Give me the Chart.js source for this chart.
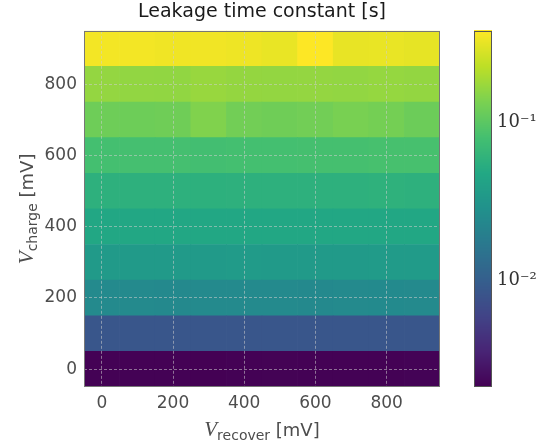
<!DOCTYPE html>
<html>
<head>
<meta charset="utf-8">
<script src="https://cdn.jsdelivr.net/npm/chart.js@4.4.0/dist/chart.umd.min.js"></script>
<style>
  html, body { margin: 0; padding: 0; background: #fff; }
  #wrap { width: 541px; height: 443px; }
</style>
</head>
<body>
<div id="wrap"><canvas id="myChart"></canvas></div>
<script>
// sweep axes (mV)
var vRecover = [0, 100, 200, 300, 400, 500, 600, 700, 800, 900];
var vCharge = [0, 100, 200, 300, 400, 500, 600, 700, 800, 900];

// leakage time constant [s], one array per V_charge row, columns follow vRecover
var tauCharge0   = [0.00211, 0.00213, 0.00212, 0.00209, 0.00212, 0.00214, 0.00213, 0.00211, 0.00212, 0.00215];
var tauCharge100 = [0.0084, 0.00842, 0.00838, 0.0084, 0.00845, 0.00841, 0.0084, 0.00843, 0.00839, 0.00844];
var tauCharge200 = [0.0242, 0.0243, 0.0241, 0.0242, 0.0244, 0.0242, 0.0241, 0.0243, 0.0245, 0.0243];
var tauCharge300 = [0.0348, 0.0349, 0.0346, 0.0348, 0.035, 0.0347, 0.0349, 0.0348, 0.0351, 0.035];
var tauCharge400 = [0.0462, 0.0464, 0.0463, 0.046, 0.0465, 0.0462, 0.0464, 0.0466, 0.0463, 0.0465];
var tauCharge500 = [0.0568, 0.057, 0.0572, 0.0565, 0.057, 0.0568, 0.057, 0.0572, 0.0578, 0.0574];
var tauCharge600 = [0.080, 0.0805, 0.0805, 0.0785, 0.080, 0.080, 0.081, 0.081, 0.0825, 0.082];
var tauCharge700 = [0.120, 0.119, 0.121, 0.141, 0.1245, 0.121, 0.1245, 0.132, 0.127, 0.117];
var tauCharge800 = [0.164, 0.162, 0.161, 0.170, 0.165, 0.163, 0.164, 0.162, 0.166, 0.163];
var tauCharge900 = [0.352, 0.350, 0.343, 0.345, 0.338, 0.325, 0.381, 0.322, 0.324, 0.316];

var tauRows = [tauCharge0, tauCharge100, tauCharge200, tauCharge300, tauCharge400,
               tauCharge500, tauCharge600, tauCharge700, tauCharge800, tauCharge900];

// tick labels
var xTicks = [0, 200, 400, 600, 800];
var yTicks = [0, 200, 400, 600, 800];
var cbarTicks = [0.01, 0.1];

var viridis = ['#440154','#482475','#414487','#355f8d','#2a788e','#21918c',
               '#22a884','#44bf70','#7ad151','#bddf26','#fde725'];

var allTau = [].concat.apply([], tauRows);
var vmin = Math.min.apply(null, allTau);
var vmax = Math.max.apply(null, allTau);
var step = vRecover[1] - vRecover[0];

function hexRgb(h) {
  return [parseInt(h.substr(1,2),16), parseInt(h.substr(3,2),16), parseInt(h.substr(5,2),16)];
}
var viridisRgb = viridis.map(hexRgb);

function colorFor(v) {
  var t = (Math.log10(v) - Math.log10(vmin)) / (Math.log10(vmax) - Math.log10(vmin));
  t = Math.max(0, Math.min(1, t));
  var p = t * (viridisRgb.length - 1);
  var i = Math.min(Math.floor(p), viridisRgb.length - 2);
  var f = p - i;
  var a = viridisRgb[i], b = viridisRgb[i+1];
  return 'rgb(' + Math.round(a[0] + (b[0]-a[0])*f) + ',' + Math.round(a[1] + (b[1]-a[1])*f) + ',' + Math.round(a[2] + (b[2]-a[2])*f) + ')';
}

function supNum(n) {
  var map = {'-':'\u207B','0':'\u2070','1':'\u00B9','2':'\u00B2','3':'\u00B3','4':'\u2074','5':'\u2075','6':'\u2076','7':'\u2077','8':'\u2078','9':'\u2079'};
  return String(n).split('').map(function(c){ return map[c]; }).join('');
}

var datasets = tauRows.map(function(row, i) {
  return {
    data: vRecover.map(function(x, j) {
      return { x: x, y: [vCharge[i] - step/2, vCharge[i] + step/2] };
    }),
    backgroundColor: row.map(colorFor),
    borderWidth: 0,
    grouped: false,
    categoryPercentage: 1,
    barPercentage: 1
  };
});

var gridOpts = { color: 'rgba(205,205,205,0.55)', lineWidth: 1, drawTicks: false, z: 1 };
var tickFont = { family: 'DejaVu Sans', size: 17 };

function noPad(s) {
  s.paddingTop = 0; s.paddingBottom = 0; s.paddingLeft = 0; s.paddingRight = 0;
}

// frame, colorbar and mixed-font axis titles
var extras = {
  id: 'extras',
  afterDraw: function(chart) {
    var ctx = chart.ctx;
    var a = chart.chartArea;
    var cb = chart.scales.cbar;
    ctx.save();
    // colorbar
    var x0 = a.right + 34, w = 18;
    for (var py = Math.floor(a.top); py < a.bottom; py++) {
      ctx.fillStyle = colorFor(cb.getValueForPixel(py + 0.5));
      ctx.fillRect(x0, py, w, 1);
    }
    ctx.strokeStyle = '#555';
    ctx.lineWidth = 1;
    ctx.strokeRect(x0 + 0.5, Math.round(a.top) + 0.5, w - 1, Math.round(a.bottom - a.top) - 1);
    // plot frame
    ctx.strokeStyle = '#777';
    ctx.strokeRect(Math.round(a.left) + 0.5, Math.round(a.top) + 0.5, Math.round(a.right - a.left) - 1, Math.round(a.bottom - a.top) - 1);

    function label(sub, cx, cy, rot) {
      var parts = [
        { t: 'V', f: 'italic 21px "Liberation Serif"', dy: 0 },
        { t: sub, f: '14px "DejaVu Sans"', dy: 4 },
        { t: ' [mV]', f: '18px "DejaVu Sans"', dy: 0 }
      ];
      var total = 0;
      parts.forEach(function(p) { ctx.font = p.f; p.w = ctx.measureText(p.t).width; total += p.w; });
      ctx.save();
      ctx.translate(cx, cy);
      ctx.rotate(rot);
      ctx.fillStyle = '#4d4d4d';
      ctx.textBaseline = 'alphabetic';
      ctx.textAlign = 'left';
      var x = -total / 2;
      parts.forEach(function(p) { ctx.font = p.f; ctx.fillText(p.t, x, p.dy); x += p.w; });
      ctx.restore();
    }
    label('recover', (a.left + a.right) / 2, 436, 0);
    label('charge', 33, (a.top + a.bottom) / 2, -Math.PI / 2);
    ctx.restore();
  }
};

var ctx = document.getElementById('myChart').getContext('2d');
var chart = new Chart(ctx, {
  type: 'bar',
  data: { datasets: datasets },
  plugins: [extras],
  options: {
    responsive: true,
    maintainAspectRatio: false,
    animation: false,
    layout: { padding: 0, autoPadding: false },
    plugins: {
      legend: { display: false },
      tooltip: { enabled: false },
      title: {
        display: true,
        fullSize: false,
        text: 'Leakage time constant [s]',
        color: '#1a1a1a',
        font: { family: 'DejaVu Sans', size: 19, weight: 'normal' },
        padding: { top: 1, bottom: 7 }
      }
    },
    scales: {
      x: {
        type: 'linear',
        position: 'bottom',
        min: -50,
        max: 950,
        offset: false,
        grid: Object.assign({ offset: false }, gridOpts),
        border: { display: false, dash: [3, 2] },
        ticks: { padding: 6, color: '#4d4d4d', font: tickFont, maxRotation: 0, autoSkip: false },
        afterBuildTicks: function(s) { s.ticks = xTicks.map(function(v){ return { value: v }; }); },
        afterFit: function(s) { s.height = 56; noPad(s); }
      },
      y: {
        type: 'linear',
        position: 'left',
        min: -50,
        max: 950,
        grid: gridOpts,
        border: { display: false, dash: [3, 2] },
        ticks: { padding: 7, color: '#4d4d4d', font: tickFont, autoSkip: false },
        afterBuildTicks: function(s) { s.ticks = yTicks.map(function(v){ return { value: v }; }); },
        afterFit: function(s) { s.width = 84; noPad(s); }
      },
      cbar: {
        type: 'logarithmic',
        position: 'right',
        min: vmin,
        max: vmax,
        grid: { display: false, drawTicks: false },
        border: { display: false },
        ticks: {
          padding: 57,
          color: '#333',
          font: { family: 'DejaVu Serif', size: 18 },
          callback: function(v) { return '10' + supNum(Math.round(Math.log10(v))); }
        },
        afterBuildTicks: function(s) { s.ticks = cbarTicks.map(function(v){ return { value: v }; }); },
        afterFit: function(s) { s.width = 101; noPad(s); }
      }
    }
  }
});
</script>
</body>
</html>
